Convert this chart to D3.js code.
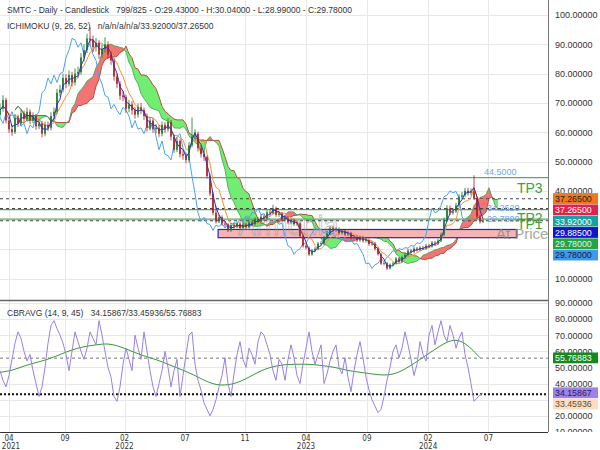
<!DOCTYPE html>
<html>
<head>
<meta charset="utf-8">
<script src="https://cdn.jsdelivr.net/npm/d3@7"></script>
<style>
  body { margin: 0; background: #fff; }
  svg { display: block; font-family: "Liberation Sans", Arial, sans-serif; }
</style>
</head>
<body>
<svg id="chart" width="600" height="450"></svg>
<script>
const opens = [66,68,71,64,61,60,65,63,66.5,64.5,67,64,65.5,62,63,59.5,62.5,61.5,65.5,67,73.5,74.5,78.5,76.5,79.5,77,80,80.5,85.5,88,92,91.5,89,90.5,86.5,88.5,90,86.5,84.5,79,76.5,72.5,72,68,69.5,67.5,66,68.5,67.5,65.5,61.5,64,61,61.5,59.5,62.5,61,63.5,58.5,54,57,52.5,52,50.5,55.5,58.5,59.5,54.5,52.5,51.5,45,39,32.5,29.5,31,28.8,28.5,26.5,28.3,27.8,28.8,27.3,28.5,27.6,29.2,28.6,30.3,29.6,31.2,30.6,32.6,32.4,34,31.8,32.2,30.2,30.6,29.2,29.8,28.6,28.9,24.5,21.2,20.6,18.3,19.6,20.2,22,22.1,24,25.5,27.2,26.6,26.9,25.6,26.4,25.1,25.5,24,24.2,23.1,24.1,22.9,23.2,21.8,22,20.2,18.4,15.1,15.3,13.5,14.8,15.2,16.9,15.8,17.4,18.2,19.6,19.1,20.3,19.9,20.6,20.4,21.3,21.1,22.3,22,23,25,30,34,32.5,33,35,38,38.5,40,39.3,39.8,37.4,31.2,29.43];
const highs = [69.8,72.6,71.8,65,62.4,66.2,66,67.8,67.4,68.4,67.8,66.8,66.2,64.4,63.8,63.6,63.6,66.8,68.4,74.8,76.2,80,79.8,81,80.6,81.8,82.4,87,90,93.6,95.8,93,92.2,91.4,90,92.4,91,87.6,85.2,80,77.4,74,72.8,71,70.6,68.6,69.8,70,68.4,66.4,65.2,64.8,62.8,62.4,63.6,63.4,64.8,64.2,59.2,58.2,57.6,53.8,53,56.6,65,61,60.2,55.6,53.6,52,45.8,39.6,34.8,31.8,31.6,29.6,29,29,29,29.5,29.4,29.2,29.1,29.9,29.9,31,31,32,31.9,33.4,33.6,35.2,34.6,33,32.8,31.4,31.2,30.5,30.4,29.6,29.3,25,21.8,21,20.2,20.8,22.6,22.8,24.6,26.2,27.9,27.9,27.6,27.5,27,27,26.1,26,24.8,24.8,24.7,24.6,23.8,23.7,22.6,22.5,20.7,18.8,15.8,15.7,15.2,15.7,17.4,17.4,17.9,18.8,20.2,20.2,20.9,20.9,21.2,21.2,21.9,21.9,22.9,22.9,23.6,25.7,30.9,35.1,35,34,35.9,38.9,39.6,41,41,40.8,45.3,37.9,31.8,30.04];
const lows = [65.2,67,63,59.8,58.8,59.4,61.8,62.2,63.2,63.8,62.8,63,60.8,61,58.2,58.6,60.4,60.6,64.4,66.2,72.2,73.6,75,75.6,75.6,76,78.6,79.6,84.2,87,90,87.4,87.6,85,85.4,87.2,85,83,77.6,75,71,70.6,66.6,66.8,66,64.6,65,66.2,64.2,60.2,60.6,59.8,59.6,58.4,58.6,59.8,60.2,57.2,53,53.2,51.4,50.6,49.4,49.8,54.8,57.4,53.4,51.4,50.2,44.2,38.2,31.6,28.8,28.9,28.1,27.7,25.9,26,27.1,27.2,26.7,26.8,27,27.1,28,28.1,29,29.1,30,30.1,31.7,31.9,31.1,31.1,29.5,29.6,28.6,28.6,28,28,23.9,20.6,20,17.7,17.8,19,19.7,21.4,21.6,23.5,25,26,26,25,25,24.5,24.5,23.4,23.4,22.5,22.6,22.3,22.3,21.2,21.2,19.6,17.9,14.7,14.6,13,13.1,14.3,14.8,15.3,15.4,16.9,17.7,18.6,18.6,19.3,19.4,19.8,19.9,20.5,20.6,21.4,21.5,22.5,24.5,29.4,31.7,31.8,32.4,34.4,37.2,37.8,38.4,38.5,36.8,30.5,28.8,28.99];
const closes = [68,71,64,61,60,65,63,66.5,64.5,67,64,65.5,62,63,59.5,62.5,61.5,65.5,67,73.5,74.5,78.5,76.5,79.5,77,80,80.5,85.5,88,92,91.5,89,90.5,86.5,88.5,90,86.5,84.5,79,76.5,72.5,72,68,69.5,67.5,66,68.5,67.5,65.5,61.5,64,61,61.5,59.5,62.5,61,63.5,58.5,54,57,52.5,52,50.5,55.5,58.5,59.5,54.5,52.5,51.5,45,39,32.5,29.5,31,28.8,28.5,26.5,28.3,27.8,28.8,27.3,28.5,27.6,29.2,28.6,30.3,29.6,31.2,30.6,32.6,32.4,34,31.8,32.2,30.2,30.6,29.2,29.8,28.6,28.9,24.5,21.2,20.6,18.3,19.6,20.2,22,22.1,24,25.5,27.2,26.6,26.9,25.6,26.4,25.1,25.5,24,24.2,23.1,24.1,22.9,23.2,21.8,22,20.2,18.4,15.1,15.3,13.5,14.8,15.2,16.9,15.8,17.4,18.2,19.6,19.1,20.3,19.9,20.6,20.4,21.3,21.1,22.3,22,23,25,30,34,32.5,33,35,38,38.5,40,39.3,39.8,37.4,31.2,29.5,29.78];

// CBRAVG oscillator (same sampling) and its slow average (every 4th point)
const oscValues = [48,42,38,45,55,65,72,68,60,54,58,48,40,32,38,50,65,76,79,74,70,65,58,48,60,72,66,60,55,62,72,68,64,79,70,60,50,44,32,29,38,52,62,55,48,70,62,55,72,60,48,38,32,40,48,60,50,38,48,55,32,45,58,70,72,52,42,36,28,24,20,24,30,38,45,56,40,32,46,58,66,55,50,62,58,52,66,72,70,64,58,48,42,55,52,42,55,64,56,45,40,52,62,72,60,52,58,64,40,46,54,60,64,50,46,56,44,35,48,58,66,56,44,36,30,26,22,24,32,42,50,60,64,56,62,72,64,55,45,52,66,58,54,70,76,64,72,79,70,66,76,70,62,68,72,58,50,40,29,31,33,34.16];
const oscAvg = [47,48,51,53,55,58,61,63,64,65,63,60,57,55,52,49,46,42,39,39,41,45,49,51,52,52,52,51,50,48,47,46,45,46,50,55,60,65,68,64,56];
const oscAvgStep = 4;

// x axis ticks (bar position, month, year)
const tickIdx = [3, 21.7, 41.5, 61.7, 81.7, 102, 122.3, 142.7, 162.8];
const tickMonth = ["04","09","02","07","11","04","09","02","07"];
const tickYear = ["2021","","2022","","","2023","","2024",""];

// levels
const tp3 = 44.5, tp2 = 33.6, tp1 = 30.3;
const dashedLevels = [37.265, 33.92, 29.78];
const zoneLow = 24.0, zoneHigh = 26.8;
const priceLabels = [
  { v: 37.265, text: "37.26500", bg: "#f07818", fg: "#222" },
  { v: 37.265, text: "37.26500", bg: "#e0234e", fg: "#fff" },
  { v: 33.92,  text: "33.92000", bg: "#19a0a0", fg: "#fff" },
  { v: 29.885, text: "29.88500", bg: "#1414c8", fg: "#fff" },
  { v: 29.78,  text: "29.78000", bg: "#22a447", fg: "#eee" },
  { v: 29.78,  text: "29.78000", bg: "#3d98ee", fg: "#123" }
];
const oscLabels = [
  { v: 55.76883, text: "55.76883", bg: "#17881f", fg: "#fff" },
  { v: 34.15867, text: "34.15867", bg: "#9d83e8", fg: "#2a1a5a" },
  { v: 33.45936, text: "33.45936", bg: "#ffdcc2", fg: "#553" }
];

const plotR = 548;
const panelTop = { y0: 0, y1: 300 };
const panelBot = { y0: 300, y1: 432 };
const n = closes.length;
const shift = 5, tenLen = 2, kijLen = 5, spanBLen = 10;
const boxH = 11.3;

const svg = d3.select("#chart");

const x = d3.scaleLinear().domain([0, plotR / 3]).range([0, plotR]);
const y = d3.scaleLinear().domain([2.73, 105.12]).range([panelTop.y1, panelTop.y0]);
const y2 = d3.scaleLinear().domain([10, 91.8]).range([panelBot.y1, panelBot.y0]);

const defs = svg.append("defs");
defs.append("clipPath").attr("id", "clipTop").append("rect")
  .attr("x", 0).attr("y", panelTop.y0).attr("width", plotR).attr("height", panelTop.y1 - panelTop.y0);
defs.append("clipPath").attr("id", "clipBot").append("rect")
  .attr("x", 0).attr("y", panelBot.y0).attr("width", plotR).attr("height", panelBot.y1 - panelBot.y0);
defs.append("clipPath").attr("id", "clipBotAxis").append("rect")
  .attr("x", 0).attr("y", panelBot.y0).attr("width", 60).attr("height", panelBot.y1 - panelBot.y0);

// grid
const grid = svg.append("g").attr("stroke", "#e8e8e8").attr("stroke-width", 1);
grid.selectAll(".vg").data(tickIdx).join("line")
  .attr("x1", d => Math.round(x(d)) + 0.5).attr("x2", d => Math.round(x(d)) + 0.5)
  .attr("y1", 0).attr("y2", panelBot.y1);
grid.selectAll(".hg").data(d3.range(10, 101, 10)).join("line")
  .attr("x1", 0).attr("x2", plotR)
  .attr("y1", d => Math.round(y(d)) + 0.5).attr("y2", d => Math.round(y(d)) + 0.5);
grid.selectAll(".hg2").data(d3.range(20, 91, 10)).join("line")
  .attr("x1", 0).attr("x2", plotR)
  .attr("y1", d => Math.round(y2(d)) + 0.5).attr("y2", d => Math.round(y2(d)) + 0.5);

// ichimoku
function mid(len, k) {
  const a = Math.max(0, k - len + 1);
  const hs = highs.slice(a, k + 1), ls = lows.slice(a, k + 1);
  return (d3.max(hs) + d3.min(ls)) / 2;
}
const tenkan = d3.range(n).map(k => mid(tenLen, k));
const kijun = d3.range(n).map(k => mid(kijLen, k));
const spanA = d3.range(n).map(k => (tenkan[k] + kijun[k]) / 2);
const spanB = d3.range(n).map(k => mid(spanBLen, k));

const gTop = svg.append("g").attr("clip-path", "url(#clipTop)");

// cloud
const cloud = gTop.append("g").attr("opacity", 0.95);
const cloudCol = d => d > 0 ? "#f46c6c" : "#6aee6a";
for (let k = 0; k < n - 1; k++) {
  const x0 = x(k + shift), x1 = x(k + 1 + shift);
  const a0 = spanA[k], b0 = spanB[k], a1 = spanA[k + 1], b1 = spanB[k + 1];
  const d0 = a0 - b0, d1 = a1 - b1;
  if (d0 * d1 >= 0) {
    cloud.append("path")
      .attr("d", `M${x0},${y(a0)}L${x1},${y(a1)}L${x1},${y(b1)}L${x0},${y(b0)}Z`)
      .attr("fill", cloudCol(d0 !== 0 ? d0 : d1));
  } else {
    const t = d0 / (d0 - d1);
    const xc = x0 + (x1 - x0) * t, vc = a0 + (a1 - a0) * t;
    cloud.append("path").attr("d", `M${x0},${y(a0)}L${xc},${y(vc)}L${x0},${y(b0)}Z`).attr("fill", cloudCol(d0));
    cloud.append("path").attr("d", `M${xc},${y(vc)}L${x1},${y(a1)}L${x1},${y(b1)}Z`).attr("fill", cloudCol(d1));
  }
}

const line = (arr, off) => d3.line().x((d, i) => x(i + off)).y(d => y(d))(arr);
gTop.append("path").attr("d", line(spanB, shift)).attr("fill", "none").attr("stroke", "#b8503e").attr("stroke-width", 1);
gTop.append("path").attr("d", line(spanA, shift)).attr("fill", "none").attr("stroke", "#3aa05a").attr("stroke-width", 0.8);

// zone rectangle
gTop.append("rect")
  .attr("x", x(72.7)).attr("width", x(172.3) - x(72.7))
  .attr("y", y(zoneHigh)).attr("height", y(zoneLow) - y(zoneHigh))
  .attr("fill", "#f6b5b5").attr("stroke", "#2a2aa8").attr("stroke-width", 1.2);

// watermark
gTop.append("text").attr("x", 238).attr("y", 235).text("Armonia")
  .attr("font-size", 27).attr("fill", "none").attr("stroke", "#999").attr("stroke-width", 0.8)
  .attr("opacity", 0.6);

// levels
gTop.selectAll(".tp").data([tp3, tp2, tp1]).join("line")
  .attr("x1", 0).attr("x2", plotR)
  .attr("y1", d => y(d)).attr("y2", d => y(d))
  .attr("stroke", "#5caa5c").attr("stroke-width", 1.2);
gTop.selectAll(".dl").data(dashedLevels).join("line")
  .attr("x1", 0).attr("x2", plotR)
  .attr("y1", d => y(d)).attr("y2", d => y(d))
  .attr("stroke", "#444").attr("stroke-width", 1.1).attr("stroke-dasharray", "3,3");

// chikou, kijun
gTop.append("path").attr("d", line(closes, -shift)).attr("fill", "none").attr("stroke", "#4aa2f2").attr("stroke-width", 1);
gTop.append("path").attr("d", line(kijun, 0)).attr("fill", "none").attr("stroke", "#f7923a").attr("stroke-width", 1);

// candles
const cw = 1.6;
const candleCol = (d, i) => d >= opens[i] ? "#127a2e" : "#b41c1c";
const candles = gTop.append("g");
candles.selectAll("line").data(closes).join("line")
  .attr("x1", (d, i) => x(i)).attr("x2", (d, i) => x(i))
  .attr("y1", (d, i) => y(highs[i])).attr("y2", (d, i) => y(lows[i]))
  .attr("stroke", candleCol).attr("stroke-width", 0.8);
candles.selectAll("rect").data(closes).join("rect")
  .attr("x", (d, i) => x(i) - cw / 2).attr("width", cw)
  .attr("y", (d, i) => y(Math.max(d, opens[i])))
  .attr("height", (d, i) => Math.max(0.8, Math.abs(y(d) - y(opens[i]))))
  .attr("fill", candleCol);

// tenkan
gTop.append("path").attr("d", line(tenkan, 0)).attr("fill", "none").attr("stroke", "#3a2fb8").attr("stroke-width", 1);

// labels in plot
gTop.append("text").attr("x", x(161.3)).attr("y", y(tp3) - 3).text("44.5000")
  .attr("font-size", 9).attr("fill", "#6fa6f0");
gTop.append("text").attr("x", x(162.3)).attr("y", y(34.262) + 3).text("34.2620")
  .attr("font-size", 9).attr("fill", "#6fa6f0");
gTop.append("text").attr("x", x(162.3)).attr("y", y(30.1) + 2).text("29.7800")
  .attr("font-size", 9).attr("fill", "#6fa6f0");
const tpLabel = gTop.append("g").attr("font-size", 14).attr("fill", "#3f9f3f");
tpLabel.append("text").attr("x", x(172.3)).attr("y", y(tp3) + 15).text("TP3");
tpLabel.append("text").attr("x", x(172.3)).attr("y", y(tp2) + 13).text("TP2");
tpLabel.append("text").attr("x", x(172.3)).attr("y", y(tp1) + 10).text("TP1");
gTop.append("text").attr("x", x(165.3)).attr("y", y(zoneLow) + 1).text("At Price")
  .attr("font-size", 15).attr("fill", "#888").attr("opacity", 0.75);

// lower panel
const gBot = svg.append("g").attr("clip-path", "url(#clipBot)");
gBot.selectAll(".ol").data([55.76883]).join("line")
  .attr("x1", 0).attr("x2", plotR).attr("y1", d => y2(d)).attr("y2", d => y2(d))
  .attr("stroke", "#777").attr("stroke-dasharray", "3,3");
gBot.selectAll(".ol2").data([33.45936]).join("line")
  .attr("x1", 0).attr("x2", plotR).attr("y1", d => y2(d)).attr("y2", d => y2(d))
  .attr("stroke", "#111").attr("stroke-width", 2).attr("stroke-dasharray", "2,2");
gBot.append("path")
  .attr("d", d3.line().x((d, i) => x(i * oscAvgStep)).y(d => y2(d)).curve(d3.curveBasis)(oscAvg))
  .attr("fill", "none").attr("stroke", "#3a9a3a").attr("stroke-width", 1);
gBot.append("path")
  .attr("d", d3.line().x((d, i) => x(i)).y(d => y2(d))(oscValues))
  .attr("fill", "none").attr("stroke", "#9a80e6").attr("stroke-width", 1);

// frame
svg.append("line").attr("x1", plotR + 0.5).attr("x2", plotR + 0.5).attr("y1", 0).attr("y2", panelBot.y1)
  .attr("stroke", "#777");
svg.append("line").attr("x1", 0).attr("x2", plotR).attr("y1", panelTop.y1 + 0.5).attr("y2", panelTop.y1 + 0.5)
  .attr("stroke", "#666").attr("stroke-width", 1.5);
svg.append("line").attr("x1", 0).attr("x2", plotR).attr("y1", panelBot.y1 + 0.5).attr("y2", panelBot.y1 + 0.5)
  .attr("stroke", "#333");

// stacked value boxes: positions first, so covered tick labels can be skipped
function stack(list, sc, yMin) {
  let prev = yMin - boxH;
  return list.map(l => {
    const cy = Math.max(sc(l.v), prev + boxH);
    prev = cy;
    return Object.assign({ cy }, l);
  });
}
const topBoxes = stack(priceLabels, y, 0);
const botBoxes = stack(oscLabels, y2, 300);
const free = (boxes, sc) => v => !boxes.some(b => Math.abs(sc(v) - b.cy) < boxH / 2);

// axes
const fmt = d3.format(".5f");
svg.append("g").attr("transform", `translate(${plotR},0)`)
  .call(d3.axisRight(y).tickValues(d3.range(10, 101, 10).filter(free(topBoxes, y)))
    .tickFormat(fmt).tickSize(0).tickPadding(7))
  .call(g => g.select(".domain").remove())
  .call(g => g.selectAll("text").attr("font-size", 9).attr("fill", "#333").attr("font-family", "Liberation Sans, Arial"));
svg.append("g").attr("transform", `translate(${plotR},0)`)
  .attr("clip-path", "url(#clipBotAxis)")
  .call(d3.axisRight(y2).tickValues(d3.range(10, 91, 10).filter(free(botBoxes, y2)))
    .tickFormat(fmt).tickSize(0).tickPadding(7))
  .call(g => g.select(".domain").remove())
  .call(g => g.selectAll("text").attr("font-size", 9).attr("fill", "#333").attr("font-family", "Liberation Sans, Arial"));

const xa = svg.append("g").attr("font-family", "DejaVu Sans Condensed, DejaVu Sans").attr("font-size", 8).attr("fill", "#333")
  .attr("text-anchor", "middle");
xa.selectAll(".m").data(tickIdx).join("text")
  .attr("x", d => x(d)).attr("y", 441).text((d, i) => tickMonth[i]);
xa.selectAll(".yr").data(tickIdx).join("text")
  .attr("x", d => Math.max(11, x(d))).attr("y", 449).text((d, i) => tickYear[i]);

function drawBoxes(list) {
  const g = svg.append("g").attr("font-size", 8.8);
  list.forEach(l => {
    g.append("rect").attr("x", plotR + 5).attr("y", l.cy - boxH / 2).attr("width", 45).attr("height", boxH - 0.5).attr("fill", l.bg);
    g.append("text").attr("x", plotR + 7).attr("y", l.cy + 3.1).text(l.text).attr("fill", l.fg);
  });
}
drawBoxes(topBoxes);
drawBoxes(botBoxes);

// headers
const hd = svg.append("g").attr("font-size", 8.5).attr("fill", "#333");
hd.append("text").attr("x", 7).attr("y", 13).attr("xml:space", "preserve")
  .text("SMTC - Daily - Candlestick   799/825 - O:29.43000 - H:30.04000 - L:28.99000 - C:29.78000");
hd.append("text").attr("x", 7).attr("y", 29).attr("xml:space", "preserve")
  .text("ICHIMOKU (9, 26, 52)   n/a/n/a/n/a/33.92000/37.26500");
hd.append("text").attr("x", 7).attr("y", 316).attr("xml:space", "preserve")
  .text("CBRAVG (14, 9, 45)   34.15867/33.45936/55.76883");
</script>
</body>
</html>
